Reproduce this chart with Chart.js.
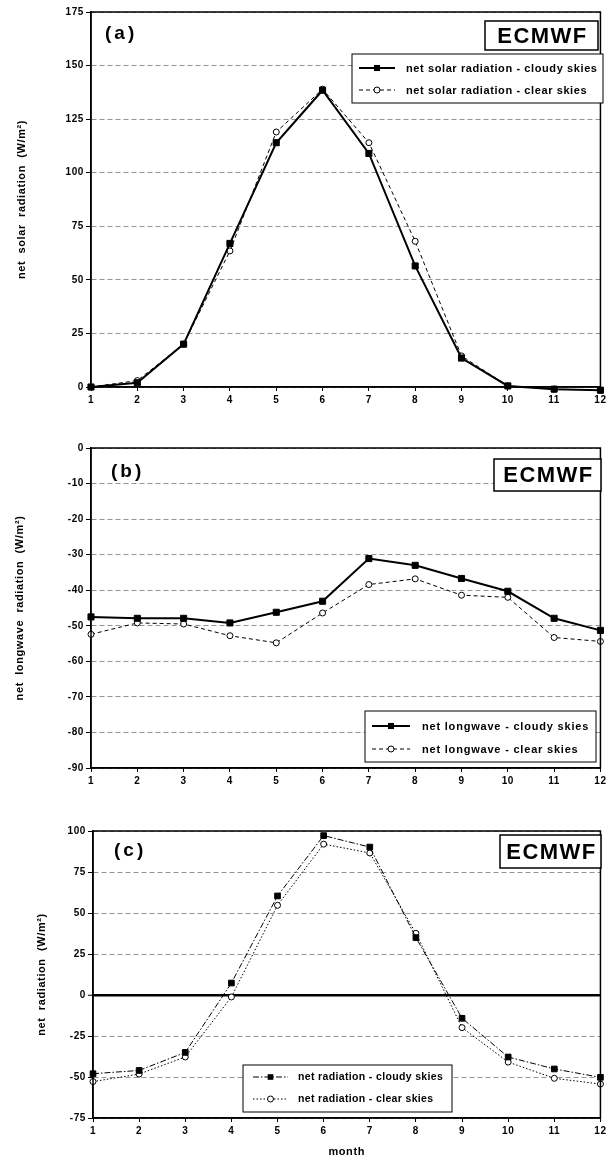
<!DOCTYPE html>
<html>
<head>
<meta charset="utf-8">
<script src="https://cdn.jsdelivr.net/npm/chart.js@4.4.1/dist/chart.umd.min.js"></script>
<style>
html, body { margin: 0; padding: 0; background: #fff; }
#wrap { position: relative; width: 609px; height: 1160px; overflow: hidden; }
canvas { position: absolute; left: 0; }
</style>
</head>
<body>
<div id="wrap">
  <canvas id="chartA" width="609" height="420" style="top:0px"></canvas>
  <canvas id="chartB" width="609" height="380" style="top:420px"></canvas>
  <canvas id="chartC" width="609" height="360" style="top:800px"></canvas>
</div>
<script>
const months = ['1', '2', '3', '4', '5', '6', '7', '8', '9', '10', '11', '12'];

// (a) net solar radiation
const solarCloudy = [0, 2, 20, 67, 114, 138.5, 109, 56.5, 13.5, 0.5, -1, -1.5];
const solarClear  = [0, 3, 20, 63.5, 119, 139, 114, 68, 14.5, 0.5, -1, -1.5];

// (b) net longwave radiation
const longCloudy = [-47.5, -47.9, -47.9, -49.2, -46.2, -43.1, -31.1, -33, -36.7, -40.3, -47.9, -51.3];
const longClear  = [-52.4, -49.2, -49.5, -52.8, -54.8, -46.4, -38.4, -36.8, -41.4, -42, -53.3, -54.4];

// (c) net radiation
const netCloudy = [-48, -46, -35, 7.3, 60.4, 97.2, 90.2, 35, -14.2, -37.8, -45.1, -50.2];
const netClear  = [-52.8, -48.2, -37.8, -1.2, 54.7, 92, 86.6, 37.6, -19.9, -40.9, -50.8, -54.3];

const solarLabels = ['net solar radiation - cloudy skies', 'net solar radiation - clear skies'];
const longLabels  = ['net longwave - cloudy skies', 'net longwave - clear skies'];
const netLabels   = ['net radiation - cloudy skies', 'net radiation - clear skies'];

const yTitles = ['net  solar  radiation  (W/m²)', 'net  longwave  radiation  (W/m²)', 'net  radiation  (W/m²)'];
const xTitle = 'month';
const modelName = 'ECMWF';
const panelTags = ['(a)', '(b)', '(c)'];

const FONT = '"Liberation Sans", Arial, Helvetica, sans-serif';
Chart.defaults.font.family = FONT;
Chart.defaults.font.weight = 'bold';
Chart.defaults.color = '#000';

// frame, panel tag, model badge and legend box
const panelDecor = {
    id: 'panelDecor',
    beforeDraw: function (chart) {
        chart.ctx.letterSpacing = '0.6px';
    },
    afterDraw: function (chart, args, opts) {
        const ctx = chart.ctx;
        const a = chart.chartArea;
        ctx.save();
        ctx.letterSpacing = '0px';
        ctx.strokeStyle = '#000';
        ctx.fillStyle = '#000';
        ctx.lineWidth = 1.5;
        ctx.strokeRect(a.left, a.top, a.right - a.left, a.bottom - a.top);

        ctx.font = 'bold 19px ' + FONT;
        ctx.letterSpacing = '3px';
        ctx.textBaseline = 'middle';
        ctx.textAlign = 'left';
        ctx.fillText(opts.tag, opts.tagX, opts.tagY);

        const b = opts.badge;
        ctx.fillStyle = '#fff';
        ctx.fillRect(b.x, b.y, b.w, b.h);
        ctx.fillStyle = '#000';
        ctx.lineWidth = 1.5;
        ctx.strokeRect(b.x, b.y, b.w, b.h);
        ctx.font = 'bold 22px ' + FONT;
        ctx.letterSpacing = '1.5px';
        ctx.textAlign = 'center';
        ctx.fillText(modelName, b.x + b.w / 2 + 1, b.y + b.h / 2 + 1);

        const L = opts.legend;
        ctx.fillStyle = '#fff';
        ctx.fillRect(L.x, L.y, L.w, L.h);
        ctx.lineWidth = 1;
        ctx.strokeRect(L.x, L.y, L.w, L.h);
        ctx.font = 'bold ' + (L.size || 11) + 'px ' + FONT;
        ctx.letterSpacing = (L.spacing || 0.6) + 'px';
        ctx.textAlign = 'left';
        chart.data.datasets.forEach((ds, i) => {
            const y = L.rows[i];
            ctx.strokeStyle = '#000';
            ctx.lineWidth = ds.borderWidth;
            ctx.setLineDash(ds.borderDash || []);
            ctx.beginPath();
            ctx.moveTo(L.lx0, y);
            ctx.lineTo(L.lx1, y);
            ctx.stroke();
            ctx.setLineDash([]);
            const mx = (L.lx0 + L.lx1) / 2;
            ctx.lineWidth = 1;
            if (ds.pointStyle === 'rect') {
                const s = ds.pointRadius * Math.SQRT1_2;
                ctx.fillStyle = '#000';
                ctx.fillRect(mx - s, y - s, 2 * s, 2 * s);
            } else {
                ctx.beginPath();
                ctx.arc(mx, y, ds.pointRadius, 0, 2 * Math.PI);
                ctx.fillStyle = '#fff';
                ctx.fill();
                ctx.stroke();
            }
            ctx.fillStyle = '#000';
            ctx.fillText(ds.label, L.tx, y + 0.5);
        });
        ctx.restore();
        ctx.letterSpacing = '0px';
    }
};

function makeChart(id, p) {
    return new Chart(document.getElementById(id), {
        type: 'line',
        data: {
            labels: months,
            datasets: [
                {
                    label: p.labels[0],
                    data: p.cloudy,
                    borderColor: '#000',
                    borderWidth: p.cloudyWidth,
                    borderDash: p.cloudyDash,
                    pointStyle: 'rect',
                    pointRadius: p.rectR,
                    pointBackgroundColor: '#000',
                    pointBorderColor: '#000',
                    pointBorderWidth: 1,
                    tension: 0,
                    clip: false
                },
                {
                    label: p.labels[1],
                    data: p.clear,
                    borderColor: '#000',
                    borderWidth: 1,
                    borderDash: p.clearDash,
                    pointStyle: 'circle',
                    pointRadius: 3,
                    pointBackgroundColor: '#fff',
                    pointBorderColor: '#000',
                    pointBorderWidth: 1,
                    tension: 0,
                    clip: false
                }
            ]
        },
        options: {
            responsive: false,
            animation: false,
            devicePixelRatio: 1,
            layout: { padding: { top: p.top, right: p.right, left: 0, bottom: 0 } },
            plugins: {
                legend: { display: false },
                tooltip: { enabled: false },
                panelDecor: p.decor
            },
            scales: {
                x: {
                    offset: false,
                    grid: { offset: false, drawOnChartArea: false, tickLength: 4, tickColor: '#000', tickWidth: 1 },
                    border: { color: '#000', width: 1.5 },
                    ticks: { padding: 3, maxRotation: 0, autoSkip: false, font: { size: 10, weight: 'bold' }, color: '#000' },
                    title: {
                        display: !!p.xTitle,
                        text: p.xTitle || '',
                        color: '#000',
                        font: { size: 11, weight: 'bold' },
                        padding: { top: 0, bottom: 1 }
                    },
                    afterFit: function (s) { s.height = p.xH; }
                },
                y: {
                    min: p.min,
                    max: p.max,
                    ticks: { stepSize: p.step, padding: 2, color: '#000', font: { size: 10, weight: 'bold' } },
                    grid: {
                        color: (c) => (p.zeroLine && c.tick && c.tick.value === 0) ? '#000' : '#777',
                        lineWidth: (c) => (p.zeroLine && c.tick && c.tick.value === 0) ? 2.5 : 0.8,
                        tickLength: 5,
                        tickColor: '#000',
                        tickWidth: 1,
                        tickBorderDash: []
                    },
                    border: {
                        color: '#000',
                        width: 1.5,
                        dash: (c) => (p.zeroLine && c.tick && c.tick.value === 0) ? [] : [5, 3]
                    },
                    title: {
                        display: true,
                        text: p.yTitle,
                        color: '#000',
                        font: { size: 11, weight: 'bold' },
                        padding: { top: p.titlePad, bottom: 0 }
                    },
                    afterFit: function (s) { s.width = p.yW; }
                }
            }
        },
        plugins: [panelDecor]
    });
}

document.addEventListener('DOMContentLoaded', () => {
    makeChart('chartA', {
        labels: solarLabels, cloudy: solarCloudy, clear: solarClear,
        cloudyWidth: 2, cloudyDash: [], clearDash: [4, 3], rectR: 4.3,
        min: 0, max: 175, step: 25,
        top: 12, right: 7, xH: 33, yW: 91, titlePad: 15,
        yTitle: yTitles[0],
        decor: {
            tag: panelTags[0], tagX: 105, tagY: 34,
            badge: { x: 485, y: 21, w: 113, h: 29 },
            legend: { x: 352, y: 54, w: 251, h: 49, rows: [68, 90], lx0: 359, lx1: 395, tx: 406 }
        }
    });
    makeChart('chartB', {
        labels: longLabels, cloudy: longCloudy, clear: longClear,
        cloudyWidth: 2, cloudyDash: [], clearDash: [4, 3], rectR: 4.3,
        min: -90, max: 0, step: 10,
        top: 28, right: 7, xH: 32, yW: 91, titlePad: 13,
        yTitle: yTitles[1],
        decor: {
            tag: panelTags[1], tagX: 111, tagY: 52,
            badge: { x: 494, y: 39, w: 107, h: 32 },
            legend: { x: 365, y: 291, w: 231, h: 51, rows: [306, 329], lx0: 372, lx1: 410, tx: 422, spacing: 0.8 }
        }
    });
    makeChart('chartC', {
        labels: netLabels, cloudy: netCloudy, clear: netClear,
        cloudyWidth: 1, cloudyDash: [6, 2, 1.5, 2], clearDash: [1.5, 2], rectR: 4,
        min: -75, max: 100, step: 25, zeroLine: true,
        top: 31, right: 5, xH: 42, yW: 93, titlePad: 35,
        yTitle: yTitles[2], xTitle: xTitle,
        decor: {
            tag: panelTags[2], tagX: 114, tagY: 51,
            badge: { x: 500, y: 35, w: 101, h: 33 },
            legend: { x: 243, y: 265, w: 209, h: 47, rows: [277, 299], lx0: 253, lx1: 288, tx: 298, size: 10.5, spacing: 0.35 }
        }
    });
});
</script>
</body>
</html>
